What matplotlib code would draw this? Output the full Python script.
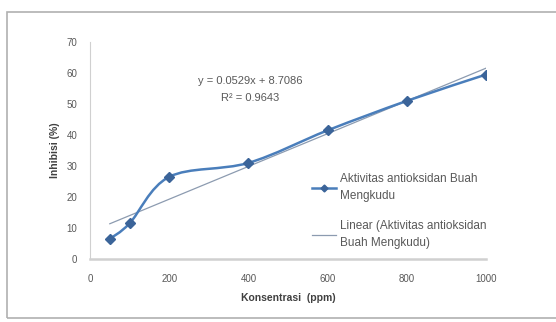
import numpy as np
import matplotlib.pyplot as plt
from matplotlib.path import Path
from matplotlib.patches import PathPatch, Rectangle
from matplotlib.lines import Line2D

konsentrasi = [50, 100, 200, 400, 600, 800, 1000]
inhibisi = [6.5, 11.5, 26.5, 31.0, 41.5, 51.0, 59.5]
x_ticks = [0, 200, 400, 600, 800, 1000]
y_ticks = [0, 10, 20, 30, 40, 50, 60, 70]
series_name = 'Aktivitas antioksidan Buah\nMengkudu'
trend_name = 'Linear (Aktivitas antioksidan\nBuah Mengkudu)'

plt.rcParams['font.family'] = ['Liberation Sans', 'DejaVu Sans']

line_col = '#4a7ebb'
marker_col = '#3b6499'
trend_col = '#8c9bb0'
text_col = '#595959'

fig = plt.figure(figsize=(5.56, 3.22), dpi=100)
fig.patches.append(Rectangle((7 / 556, 4 / 322), 1.0, 306 / 322, transform=fig.transFigure,
                             fill=False, edgecolor='#b0b0b0', linewidth=1.2))
ax = fig.add_axes([90 / 556, 63 / 322, 396 / 556, 217 / 322])

# smoothed line (Excel-style Bezier through the data points)
x = np.array(konsentrasi, dtype=float)
y = np.array(inhibisi, dtype=float)
verts = [(x[0], y[0])]
codes = [Path.MOVETO]
t = 1 / 6.
for i in range(len(x) - 1):
    p0 = (x[max(i - 1, 0)], y[max(i - 1, 0)])
    p1 = (x[i], y[i])
    p2 = (x[i + 1], y[i + 1])
    p3 = (x[min(i + 2, len(x) - 1)], y[min(i + 2, len(x) - 1)])
    c1 = (p1[0] + (p2[0] - p0[0]) * t, p1[1] + (p2[1] - p0[1]) * t)
    c2 = (p2[0] - (p3[0] - p1[0]) * t, p2[1] - (p3[1] - p1[1]) * t)
    verts += [c1, c2, p2]
    codes += [Path.CURVE4] * 3
ax.add_patch(PathPatch(Path(verts, codes), fill=False, edgecolor=line_col, linewidth=1.8, zorder=3))
ax.plot(konsentrasi, inhibisi, linestyle='none', marker='D', markersize=5.5,
        color=marker_col, zorder=4)

# linear trendline
slope, intercept = np.polyfit(x, y, 1)
xt = np.array([x[0], x[-1]])
ax.plot(xt, slope * xt + intercept, color=trend_col, linewidth=0.9, zorder=2)

ax.text(0.405, 0.818, 'y = 0.0529x + 8.7086', transform=ax.transAxes, ha='center',
        va='center', fontsize=8, color=text_col)
ax.text(0.405, 0.743, 'R² = 0.9643', transform=ax.transAxes, ha='center',
        va='center', fontsize=8, color=text_col)

ax.set_xlim(0, 1000)
ax.set_ylim(0, 70)
ax.set_xticks(x_ticks)
ax.set_yticks(y_ticks)
ax.tick_params(length=0, labelsize=7, labelcolor=text_col)
ax.tick_params(axis='x', pad=11)
ax.tick_params(axis='y', pad=9)
for s in ['top', 'right']:
    ax.spines[s].set_visible(False)
ax.spines['left'].set_color('#d0d0d0')
ax.spines['left'].set_linewidth(0.8)
ax.spines['bottom'].set_color('#d0d0d0')
ax.spines['bottom'].set_linewidth(1.8)

ax.set_xlabel('Konsentrasi  (ppm)', fontsize=7.5, fontweight='bold', color='#404040', labelpad=6)
ax.set_ylabel('Inhibisi (%)', fontsize=7.5, fontweight='bold', color='#404040', labelpad=5)

handles = [Line2D([], [], color=line_col, linewidth=1.8, marker='D', markersize=3.5,
                  markerfacecolor=marker_col, markeredgecolor=marker_col),
           Line2D([], [], color=trend_col, linewidth=0.9)]
leg = ax.legend(handles, [series_name, trend_name], loc='upper left',
                bbox_to_anchor=(0.535, 0.445), frameon=False, fontsize=8.5,
                handlelength=2.0, handletextpad=0.3, labelspacing=1.45,
                labelcolor=text_col)
for txt in leg.get_texts():
    txt.set_linespacing(1.6)

fig.savefig('out.png', dpi=100)
